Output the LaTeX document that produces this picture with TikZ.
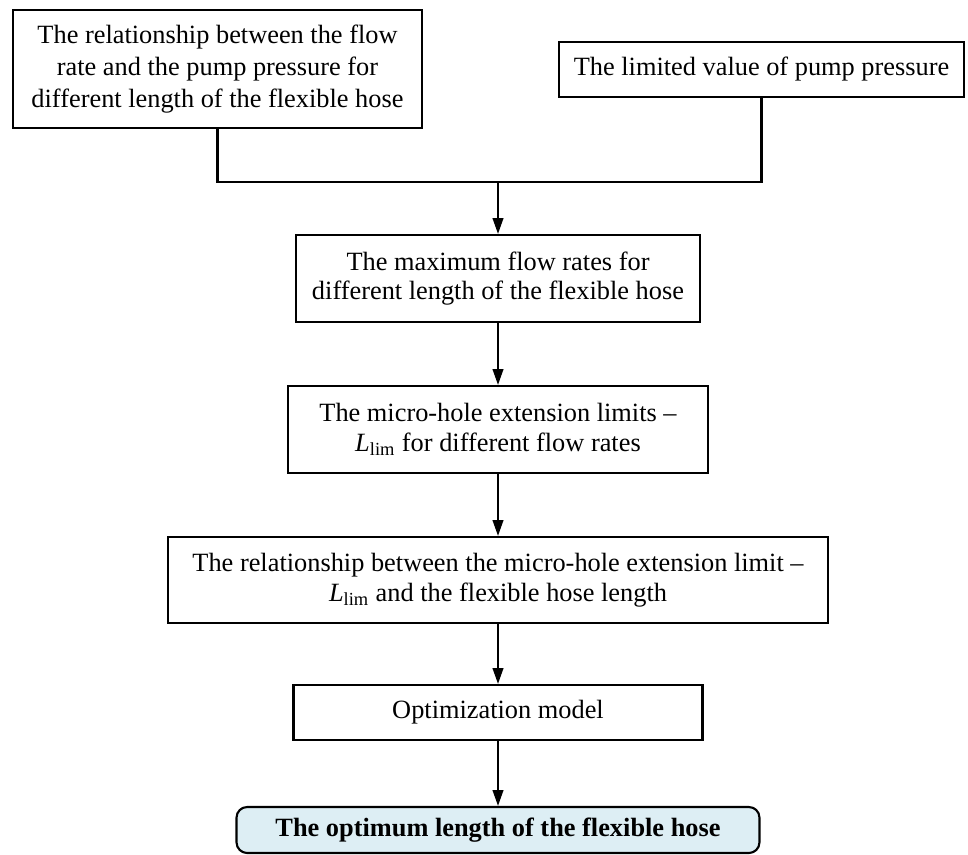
\documentclass[tikz,border=0pt]{standalone}
\usepackage{fontspec}
\setmainfont{Liberation Serif}
\usetikzlibrary{arrows.meta}
\definecolor{paleblue}{RGB}{221,238,244}

\begin{document}
\begin{tikzpicture}[x=0.02cm, y=-0.02cm,
        box/.style={draw, line width=1.2pt, inner sep=0pt, align=center,
            font=\fontsize{15}{17}\selectfont},
        endbox/.style={box, rounded corners=6pt, fill=paleblue,
            font=\fontsize{15}{17}\selectfont\bfseries},
        link/.style={line width=1.2pt},
        flow/.style={link, -{Triangle[length=9pt, width=6pt]}}]
        % page size
        \useasboundingbox (0,0) rectangle (968,855);

        % two inputs on top
        \node[box, minimum width=8.18cm, minimum height=2.36cm,
            font=\fontsize{15}{18}\selectfont] (relation) at (217.5,69)
            {The relationship between the flow\\rate and the pump pressure for\\different length of the flexible hose};
        \node[box, minimum width=8.1cm, minimum height=1.1cm] (limit) at (761.5,69.5)
            {The limited value of pump pressure};

        % main chain, all centred on x = 498
        \node[box, minimum width=8.08cm, minimum height=1.74cm] (maxflow) at (498,278.5)
            {The maximum flow rates for\\different length of the flexible hose};
        \node[box, minimum width=8.4cm, minimum height=1.74cm] (extlimit) at (498,429.5)
            {The micro-hole extension limits --\\\textit{L}\textsubscript{lim} for different flow rates};
        \node[box, minimum width=13.2cm, minimum height=1.72cm] (extlength) at (498,580)
            {The relationship between the micro-hole extension limit --\\\textit{L}\textsubscript{lim} and the flexible hose length};
        \node[box, minimum width=8.18cm, minimum height=1.1cm] (model) at (498,712.5)
            {Optimization model};
        \node[endbox, minimum width=10.46cm, minimum height=0.92cm] (optimum) at (498,830)
            {The optimum length of the flexible hose};

        % joining the two inputs
        \coordinate (join) at (498,182);
        \draw[link] (relation.south) |- (join) -| (limit.south);
        \draw[flow] (join) -- (maxflow.north);

        \draw[flow] (maxflow) -- (extlimit);
        \draw[flow] (extlimit) -- (extlength);
        \draw[flow] (extlength) -- (model);
        \draw[flow] (model) -- (optimum);
    \end{tikzpicture}
\end{document}
